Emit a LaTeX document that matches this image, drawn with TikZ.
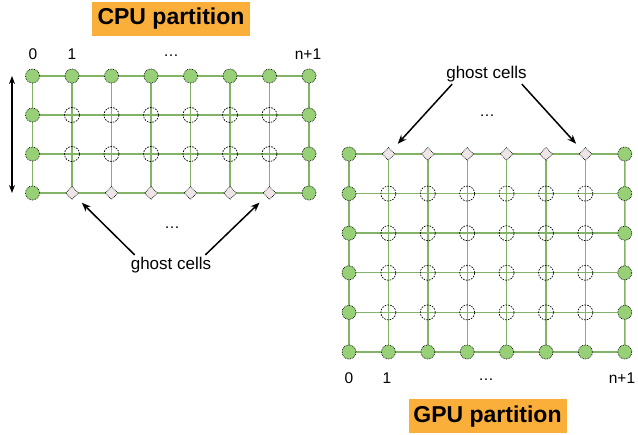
\documentclass[tikz,border=0pt]{standalone}
\usepackage{fontspec}
\setmainfont{Liberation Sans}
\usetikzlibrary{shapes.geometric,backgrounds,arrows.meta}
\definecolor{cellgreen}{HTML}{97D077}
\definecolor{linegreen}{HTML}{82B366}
\definecolor{ghostpink}{HTML}{EEE6E6}
\definecolor{titleorange}{HTML}{FBAF3B}
\tikzset{
  bound/.style={circle,draw,densely dotted,line width=0.7pt,fill=cellgreen,minimum size=14pt,inner sep=0pt},
  inner/.style={circle,draw,dash pattern=on 1.6pt off 1.2pt,line width=0.7pt,minimum size=15pt,inner sep=0pt},
  ghost/.style={diamond,draw,densely dotted,line width=0.7pt,fill=ghostpink,minimum size=13pt,inner sep=0pt},
  gridline/.style={draw=linegreen,line width=1.4pt},
  title/.style={fill=titleorange,font=\bfseries\fontsize{23}{26}\selectfont,minimum width=158pt,minimum height=34pt,inner sep=0pt},
  lbl/.style={font=\fontsize{15.5}{18}\selectfont,inner sep=2pt},
  ghostlbl/.style={font=\fontsize{17}{20}\selectfont,inner sep=2pt},
  pointer/.style={-{Stealth[length=9pt,width=7pt]},line width=1.5pt,shorten >=9pt}
}
\begin{document}
\begin{tikzpicture}[x=1pt,y=-1pt]
\useasboundingbox (0,0) rectangle (638,435);
% CPU partition
\node[title] (cputitle) at (171,19) {CPU partition};
\foreach \i in {0,...,7}
  \node[bound] (c-\i-0) at (32.5+39.5*\i,76) {};
\foreach \j in {1,2,3} {
  \node[bound] (c-0-\j) at (32.5,76+39*\j) {};
  \node[bound] (c-7-\j) at (309,76+39*\j) {};
}
\foreach \i in {1,...,6} {
  \node[inner] (c-\i-1) at (32.5+39.5*\i,115) {};
  \node[inner] (c-\i-2) at (32.5+39.5*\i,154) {};
  \node[ghost] (c-\i-3) at (32.5+39.5*\i,193) {};
}
\begin{scope}[on background layer]
\foreach \j in {0,...,3} \draw[gridline] (c-0-\j.center) -- (c-7-\j.center);
\foreach \i in {0,...,7} \draw[gridline] (c-\i-0.center) -- (c-\i-3.center);
\end{scope}
\node[lbl] (cpu0) at (33,54) {0};
\node[lbl] (cpu1) at (72,54) {1};
\node[lbl] (cpudots) at (171,56) {…};
\node[lbl] (cpun) at (308,54) {n+1};
\coordinate (rowtop) at (12,76);
\coordinate (rowbot) at (12,193);
\draw[{Stealth[length=8pt,width=6pt]}-{Stealth[length=8pt,width=6pt]},line width=1.5pt] (rowtop) -- (rowbot);
\node[lbl] (cpumid) at (172,228) {…};
\node[ghostlbl] (cpughost) at (171,265) {ghost cells};
\draw[pointer] ([xshift=6pt]cpughost.north west) -- (c-1-3);
\draw[pointer] ([xshift=-8pt]cpughost.north east) -- (c-6-3);
% GPU partition
\foreach \i in {0,...,7}
  \node[bound] (g-\i-5) at (349+39.4*\i,352) {};
\foreach \j in {0,...,4} {
  \node[bound] (g-0-\j) at (349,154+39.6*\j) {};
  \node[bound] (g-7-\j) at (624.8,154+39.6*\j) {};
}
\foreach \i in {1,...,6} {
  \node[ghost] (g-\i-0) at (349+39.4*\i,154) {};
  \foreach \j in {1,...,4}
    \node[inner] (g-\i-\j) at (349+39.4*\i,154+39.6*\j) {};
}
\begin{scope}[on background layer]
\foreach \j in {0,...,5} \draw[gridline] (g-0-\j.center) -- (g-7-\j.center);
\foreach \i in {0,...,7} \draw[gridline] (g-\i-0.center) -- (g-\i-5.center);
\end{scope}
\node[lbl] (gpu0) at (349,378) {0};
\node[lbl] (gpu1) at (387,378) {1};
\node[lbl] (gpudots) at (486,380) {…};
\node[lbl] (gpun) at (622,378) {n+1};
\node[title] (gputitle) at (487.5,416.5) {GPU partition};
\node[ghostlbl] (gpughost) at (486.5,74) {ghost cells};
\node[lbl] (gpumid) at (487,116) {…};
\draw[pointer] ([xshift=8pt]gpughost.south west) -- (g-1-0);
\draw[pointer] ([xshift=-7pt]gpughost.south east) -- (g-6-0);
\end{tikzpicture}
\end{document}
